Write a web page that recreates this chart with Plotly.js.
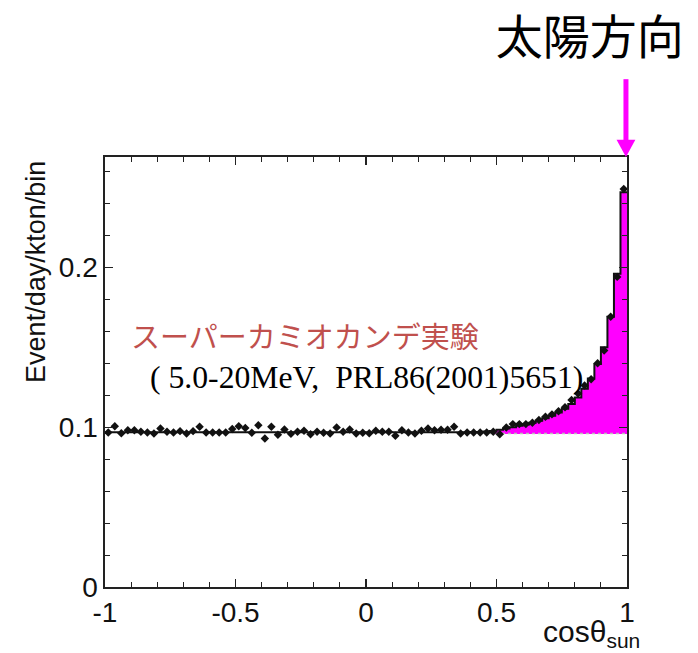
<!DOCTYPE html>
<html>
<head>
<meta charset="utf-8">
<script src="https://cdn.plot.ly/plotly-3.0.1.min.js"></script>
<style>
  html, body { margin: 0; padding: 0; background: #ffffff; }
  #chart { width: 698px; height: 653px; }
</style>
</head>
<body>
<div id="chart"></div>
<script>
// Super-Kamiokande solar neutrino angular distribution, 80 bins in cos(theta_sun)
const binLow = -1.0;
const binWidth = 0.025;

// Observed event rate per bin (Event/day/kton/bin)
const observed = [
  0.0967, 0.1006, 0.0962, 0.0980, 0.0980, 0.0971, 0.0967, 0.0960, 0.0992, 0.0971,
  0.0967, 0.0975, 0.0960, 0.0975, 0.1002, 0.0967, 0.0967, 0.0967, 0.0967, 0.0988,
  0.1006, 0.0995, 0.0965, 0.1012, 0.0929, 0.1002, 0.0952, 0.0985, 0.0958, 0.0971,
  0.0977, 0.0956, 0.0971, 0.0965, 0.0960, 0.0998, 0.0971, 0.0985, 0.0960, 0.0965,
  0.0962, 0.0977, 0.0971, 0.0971, 0.0946, 0.0980, 0.0967, 0.0960, 0.0977, 0.0992,
  0.0980, 0.0984, 0.0984, 0.1002, 0.0960, 0.0967, 0.0967, 0.0967, 0.0967, 0.0971,
  0.0955, 0.0998, 0.1019, 0.1019, 0.1019, 0.1027, 0.1045, 0.1065, 0.1080, 0.1100,
  0.1125, 0.1170, 0.1210, 0.1260, 0.1300, 0.1400, 0.1480, 0.1690, 0.1940, 0.2490
];

// Best-fit expectation (background + solar signal)
const fitted = [
  0.0968, 0.0968, 0.0968, 0.0968, 0.0968, 0.0968, 0.0968, 0.0968, 0.0968, 0.0968,
  0.0968, 0.0968, 0.0968, 0.0968, 0.0968, 0.0968, 0.0968, 0.0968, 0.0968, 0.0968,
  0.0968, 0.0968, 0.0968, 0.0968, 0.0968, 0.0968, 0.0968, 0.0968, 0.0968, 0.0968,
  0.0968, 0.0968, 0.0968, 0.0968, 0.0968, 0.0968, 0.0968, 0.0968, 0.0968, 0.0968,
  0.0968, 0.0968, 0.0968, 0.0968, 0.0968, 0.0968, 0.0968, 0.0968, 0.0968, 0.0968,
  0.0968, 0.0968, 0.0968, 0.0968, 0.0968, 0.0968, 0.0969, 0.0970, 0.0972, 0.0976,
  0.0983, 0.0992, 0.1000, 0.1008, 0.1017, 0.1028, 0.1040, 0.1055, 0.1072, 0.1092,
  0.1115, 0.1145, 0.1185, 0.1240, 0.1305, 0.1395, 0.1500, 0.1690, 0.1960, 0.2470
];

// Flat background level under the solar peak
const background = 0.0960;

// Statistical error per bin
const errors = [0.0017];

const tickVals = [-1, -0.5, 0, 0.5, 1];
const tickText = ['-1', '-0.5', '0', '0.5', '1'];
const yTickVals = [0, 0.1, 0.2];
const yTickText = ['0', '0.1', '0.2'];

const nBins = observed.length;
const centers = observed.map((_, i) => binLow + (i + 0.5) * binWidth);
const edges = [];
for (let i = 0; i <= nBins; i++) edges.push(binLow + i * binWidth);
const stepY = fitted.concat([fitted[nBins - 1]]);

// Signal part shaded above the background
const sigX = [], sigY = [];
fitted.forEach((v, i) => {
  if (v - background > 0.0012) { sigX.push(centers[i]); sigY.push(v - background); }
});
const sigStart = sigX.length ? sigX[0] - binWidth / 2 : 1;

const axisFont = { family: 'Liberation Sans, Arial, sans-serif', size: 28, color: '#111' };

const traces = [
  {
    type: 'bar', x: sigX, y: sigY, base: background, width: binWidth,
    marker: { color: '#ff00ff', line: { width: 0 } },
    hoverinfo: 'skip', showlegend: false
  },
  {
    type: 'scatter', mode: 'lines',
    x: [sigStart, 1], y: [background, background],
    line: { color: '#bbbbbb', width: 1.5, dash: 'dot' },
    hoverinfo: 'skip', showlegend: false
  },
  {
    type: 'scatter', mode: 'lines', x: edges, y: stepY,
    line: { shape: 'hv', color: '#111111', width: 2 },
    hoverinfo: 'skip', showlegend: false
  },
  {
    type: 'scatter', mode: 'markers', x: centers, y: observed,
    marker: { symbol: 'diamond', size: 6.5, color: '#111111' },
    error_y: { type: 'constant', value: errors[0], thickness: 1.5, width: 0, color: '#111111' },
    error_x: { type: 'constant', value: 0.008, thickness: 1.2, width: 0, color: '#111111' },
    hoverinfo: 'skip', showlegend: false
  }
];

// Magenta arrow pointing down at the sun direction (right edge of the frame)
const arrowX = 0.998;
const headHalf = 0.018;
const shapes = [
  {
    type: 'line', xref: 'paper', yref: 'paper',
    x0: arrowX, x1: arrowX, y0: 1.03, y1: 1.181,
    line: { color: '#ff00ff', width: 5 }
  },
  {
    type: 'path', xref: 'paper', yref: 'paper',
    path: 'M ' + (arrowX - headHalf) + ' 1.04 L ' + (arrowX + headHalf) + ' 1.04 L ' + arrowX + ' 1.0 Z',
    fillcolor: '#ff00ff', line: { width: 0 }
  }
];

const layout = {
  width: 698, height: 653,
  margin: { l: 105, r: 71, t: 157, b: 66 },
  paper_bgcolor: '#ffffff', plot_bgcolor: '#ffffff',
  bargap: 0,
  title: {
    text: '太陽方向',
    font: { family: 'Noto Sans CJK JP, sans-serif', size: 47, color: '#000000' },
    xref: 'container', x: 0.845, xanchor: 'center',
    yref: 'container', y: 0.942, yanchor: 'middle'
  },
  xaxis: {
    range: [-1, 1],
    tickmode: 'array', tickvals: tickVals, ticktext: tickText,
    ticks: 'inside', ticklen: 8, tickwidth: 1.2, tickcolor: '#222',
    minor: { dtick: 0.1, ticks: 'inside', ticklen: 5, tickwidth: 1, tickcolor: '#222' },
    showline: true, linecolor: '#222', linewidth: 1.6, mirror: 'allticks',
    showgrid: false, zeroline: false,
    tickfont: axisFont
  },
  yaxis: {
    range: [0, 0.269],
    tickmode: 'array', tickvals: yTickVals, ticktext: yTickText,
    ticks: 'inside', ticklen: 8, tickwidth: 1.2, tickcolor: '#222',
    minor: { dtick: 0.02, ticks: 'inside', ticklen: 5, tickwidth: 1, tickcolor: '#222' },
    showline: true, linecolor: '#222', linewidth: 1.6, mirror: 'allticks',
    showgrid: false, zeroline: false,
    tickfont: axisFont
  },
  shapes: shapes,
  annotations: [
    {
      text: 'Event/day/kton/bin', textangle: -90,
      xref: 'paper', yref: 'paper', x: -0.132, y: 0.733,
      xanchor: 'center', yanchor: 'middle', showarrow: false,
      font: { family: 'Liberation Sans, Arial, sans-serif', size: 27, color: '#111' }
    },
    {
      text: 'cosθ<sub>sun</sub>',
      xref: 'paper', yref: 'paper', x: 1.028, y: -0.107,
      xanchor: 'right', yanchor: 'middle', showarrow: false,
      font: { family: 'Liberation Sans, Arial, sans-serif', size: 30, color: '#111' }
    },
    {
      text: 'スーパーカミオカンデ実験',
      xref: 'paper', yref: 'paper', x: 0.046, y: 0.585,
      xanchor: 'left', yanchor: 'middle', showarrow: false,
      font: { family: 'Noto Sans CJK JP, sans-serif', size: 29, color: '#c0504d' }
    },
    {
      text: '( 5.0-20MeV,\u00a0\u00a0PRL86(2001)5651)',
      xref: 'paper', yref: 'paper', x: 0.082, y: 0.488,
      xanchor: 'left', yanchor: 'middle', showarrow: false,
      font: { family: 'Liberation Serif, Times New Roman, serif', size: 31.7, color: '#000' }
    }
  ]
};

Plotly.newPlot('chart', traces, layout, { staticPlot: true, displayModeBar: false });
</script>
</body>
</html>
